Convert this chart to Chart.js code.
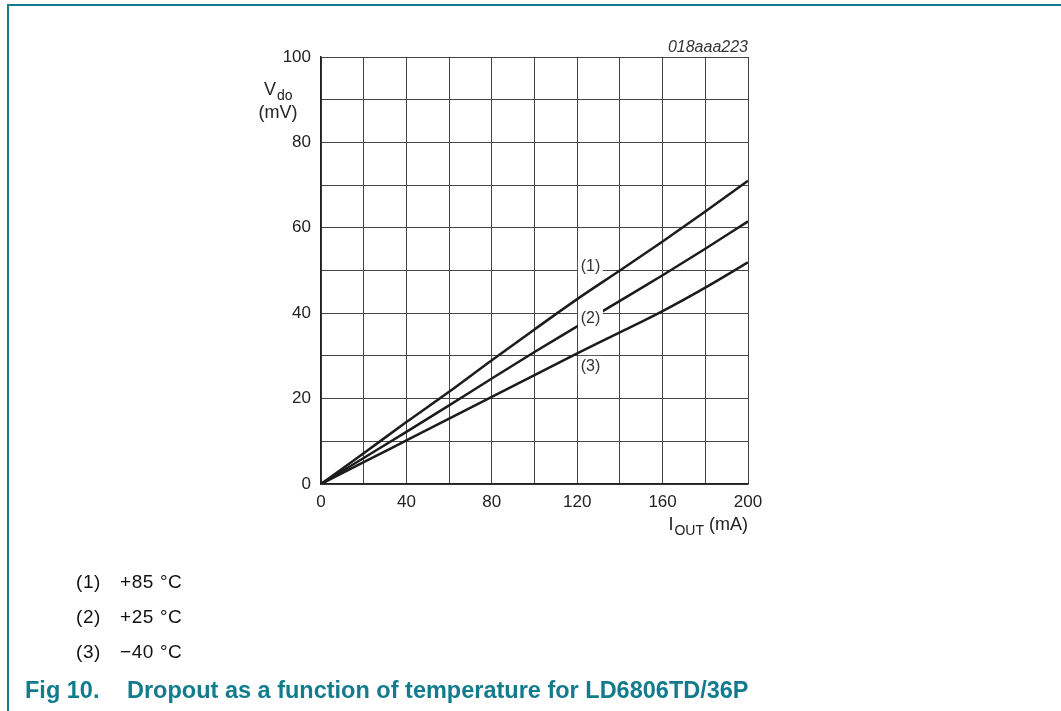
<!DOCTYPE html>
<html>
<head>
<meta charset="utf-8">
<script src="https://cdn.jsdelivr.net/npm/chart.js@4/dist/chart.umd.min.js"></script>
<style>
  body { margin: 0; background: #fff; font-family: "Liberation Sans", Arial, sans-serif; }
  #wrap { position: relative; width: 1061px; height: 711px; overflow: hidden; }
  #frame { position: absolute; left: 7px; top: 4px; width: 1100px; height: 800px;
           border-top: 2px solid #0e7c8d; border-left: 2px solid #0e7c8d; }
  canvas { position: absolute; left: 0; top: 0; }
  .leg { position: absolute; font-size: 19px; line-height: 1; color: #111; letter-spacing: 0.6px; white-space: pre; }
  .caption { position: absolute; top: 679px; font-size: 23.5px; line-height: 1; font-weight: bold; color: #127c8c; white-space: pre; }
</style>
</head>
<body>
<div id="wrap">
  <div id="frame"></div>
  <canvas id="myChart" width="1061" height="711"></canvas>
  <div class="leg" style="left:76px;top:572px">(1)</div><div class="leg" style="left:120px;top:572px">+85 °C</div>
  <div class="leg" style="left:76px;top:607px">(2)</div><div class="leg" style="left:120px;top:607px">+25 °C</div>
  <div class="leg" style="left:76px;top:642px">(3)</div><div class="leg" style="left:120px;top:642px">−40 °C</div>
  <div class="caption" style="left:25px">Fig 10.</div>
  <div class="caption" style="left:127px">Dropout as a function of temperature for LD6806TD/36P</div>
</div>
<script>
// output current in mA
const iout = [0, 20, 40, 60, 80, 100, 120, 140, 160, 180, 200]
// dropout voltage in mV, one array per temperature
const vdo_85 = [0, 7.2, 14.5, 21.6, 29.0, 36.2, 43.3, 50.0, 56.8, 63.8, 71.0]
const vdo_25 = [0, 6.1, 12.2, 18.4, 24.7, 30.9, 36.9, 42.9, 48.9, 55.1, 61.5]
const vdo_m40 = [0, 5.1, 10.2, 15.3, 20.4, 25.5, 30.6, 35.5, 40.5, 46.0, 51.9]

const xTicks = [0, 40, 80, 120, 160, 200]
const yTicks = [0, 20, 40, 60, 80, 100]

// curve tags, placed in data units
const tags = [
    { text: '(1)', x: 126.2, y: 50.8, top: 52.4, bottom: 48.6, front: false },
    { text: '(2)', x: 126.2, y: 38.8, top: 41.2, bottom: 36.5, front: true },
    { text: '(3)', x: 126.2, y: 27.4, top: 30.0, bottom: 24.8, front: false }
]

const toPoints = (ys) => iout.map((x, i) => ({ x: x, y: ys[i] }))

function drawTags(chart, front){
    const ctx = chart.ctx
    const xs = chart.scales.x, ys = chart.scales.y
    ctx.save()
    tags.filter(t => t.front === front).forEach(t => {
        const cx = xs.getPixelForValue(t.x)
        const y0 = ys.getPixelForValue(t.top), y1 = ys.getPixelForValue(t.bottom)
        ctx.fillStyle = '#fff'
        ctx.fillRect(cx - 12.5, y0, 25, y1 - y0)
        ctx.fillStyle = '#333'
        ctx.font = '16px "Liberation Sans", Arial'
        ctx.textAlign = 'center'
        ctx.textBaseline = 'middle'
        ctx.fillText(t.text, cx, ys.getPixelForValue(t.y))
    })
    ctx.restore()
}

const tagPlugin = {
    id: 'tags',
    beforeDatasetsDraw(chart){ drawTags(chart, false) },
    afterDatasetsDraw(chart){ drawTags(chart, true) },
    afterDraw(chart){
        const ctx = chart.ctx
        const a = chart.chartArea
        ctx.save()
        ctx.fillStyle = '#222'
        // y axis title: V_do (mV)
        ctx.textBaseline = 'alphabetic'
        ctx.textAlign = 'left'
        ctx.font = '18px "Liberation Sans", Arial'
        ctx.fillText('V', 264, 95)
        ctx.font = '14px "Liberation Sans", Arial'
        ctx.fillText('do', 277, 100)
        ctx.font = '18px "Liberation Sans", Arial'
        ctx.textAlign = 'center'
        ctx.fillText('(mV)', 278, 118)
        // x axis title: I_OUT (mA)
        ctx.textAlign = 'right'
        ctx.fillText(' (mA)', a.right, 530)
        const w1 = ctx.measureText(' (mA)').width
        ctx.font = '14px "Liberation Sans", Arial'
        ctx.fillText('OUT', a.right - w1, 535)
        const w2 = ctx.measureText('OUT').width
        ctx.font = '18px "Liberation Sans", Arial'
        ctx.fillText('I', a.right - w1 - w2 - 1, 530)
        // drawing number
        ctx.font = 'italic 16px "Liberation Sans", Arial'
        ctx.fillStyle = '#333'
        ctx.fillText('018aaa223', a.right, 52)
        ctx.restore()
    }
}

const lineStyle = { borderColor: '#1c1c1c', borderWidth: 2.5, pointRadius: 0, fill: false, cubicInterpolationMode: 'monotone' }

const ctx = document.getElementById('myChart').getContext('2d');
const myChart = new Chart(ctx, {
    type: 'line',
    data: {
        datasets: [
            { label: '+85 °C', data: toPoints(vdo_85), ...lineStyle },
            { label: '+25 °C', data: toPoints(vdo_25), ...lineStyle },
            { label: '−40 °C', data: toPoints(vdo_m40), ...lineStyle }
        ]
    },
    options: {
        responsive: false,
        animation: false,
        layout: { padding: { left: 0, right: 313, top: 57, bottom: 0 } },
        plugins: { legend: { display: false }, tooltip: { enabled: false } },
        scales: {
            x: {
                type: 'linear', min: 0, max: 200,
                afterFit: (scale) => { scale.height = 227 },
                ticks: {
                    stepSize: 20, autoSkip: false, maxRotation: 0, padding: 8,
                    color: '#222', font: { size: 17, family: '"Liberation Sans", Arial' },
                    callback: (v) => xTicks.includes(v) ? v : ''
                },
                grid: { color: '#444', lineWidth: 1, drawTicks: false },
                border: { color: '#222', width: 1.5 }
            },
            y: {
                min: 0, max: 100,
                afterFit: (scale) => { scale.width = 321 },
                ticks: {
                    stepSize: 10, autoSkip: false, padding: 10,
                    color: '#222', font: { size: 17, family: '"Liberation Sans", Arial' },
                    callback: (v) => yTicks.includes(v) ? v : ''
                },
                grid: { color: '#444', lineWidth: 1, drawTicks: false },
                border: { color: '#222', width: 1.5 }
            }
        }
    },
    plugins: [tagPlugin]
});
</script>
</body>
</html>
